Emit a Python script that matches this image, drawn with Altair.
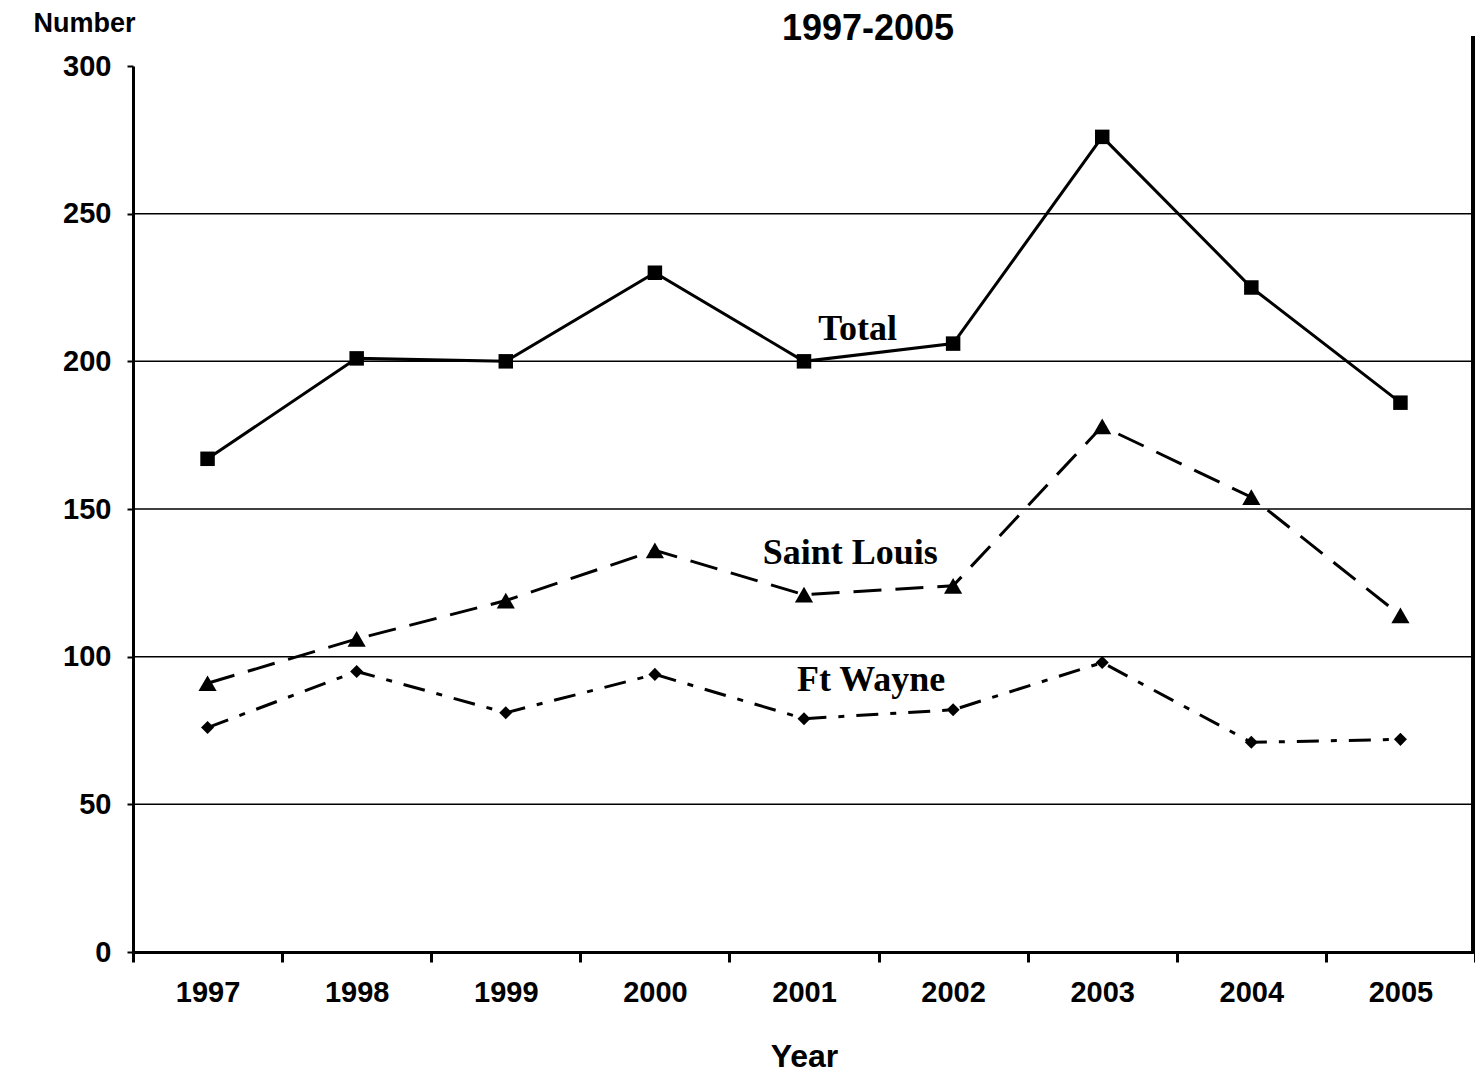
import altair as alt
import pandas as pd

years = [1997, 1998, 1999, 2000, 2001, 2002, 2003, 2004, 2005]
total = [167, 201, 200, 230, 200, 206, 276, 225, 186]
saint_louis = [91, 106, 119, 136, 121, 124, 178, 154, 114]
ft_wayne = [76, 95, 81, 94, 79, 82, 98, 71, 72]

label_text = ["Total", "Saint Louis", "Ft Wayne"]
label_x = [2001.36, 2001.31, 2001.45]
label_y = [211, 135, 92]

chart_title = ["1997-2005"]

gridlines = [50, 100, 150, 200, 250]
y_ticks = [0, 50, 100, 150, 200, 250, 300]
x_boundaries = [1996.5, 1997.5, 1998.5, 1999.5, 2000.5, 2001.5, 2002.5, 2003.5, 2004.5, 2005.5]

df = pd.DataFrame({
    "year": years * 3,
    "value": total + saint_louis + ft_wayne,
    "series": ["Total"] * 9 + ["Saint Louis"] * 9 + ["Ft Wayne"] * 9,
})
labels_df = pd.DataFrame({"label": label_text, "lx": label_x, "ly": label_y})
grid_df = pd.DataFrame({"g": gridlines})
title_df = pd.DataFrame({"t": chart_title})

SANS = "Liberation Sans"
SERIF = "Liberation Serif"

W, H = 1342, 886

x_scale = alt.Scale(domain=[1996.5, 2005.5], nice=False, zero=False)
y_scale = alt.Scale(domain=[0, 300], nice=False)

x_axis = alt.Axis(
    values=sorted(x_boundaries + years),
    labelExpr="datum.value % 1 == 0 ? format(datum.value, 'd') : ''",
    tickOpacity={"condition": {"test": "datum.value % 1 == 0", "value": 0}, "value": 1},
    tickSize=10, tickWidth=3, tickColor="black",
    domainColor="black", domainWidth=3,
    labelFont=SANS, labelFontSize=29, labelFontWeight="bold", labelColor="black",
    labelPadding=16, labelOverlap=False, labelFlush=False,
    grid=False,
    titleFont=SANS, titleFontSize=32, titleFontWeight="bold", titleColor="black",
    titleY=104, titleBaseline="middle",
)
y_axis = alt.Axis(
    values=y_ticks, format="d",
    tickSize=6, tickWidth=2, tickColor="black",
    domainColor="black", domainWidth=3,
    labelFont=SANS, labelFontSize=29, labelFontWeight="bold", labelColor="black",
    labelPadding=16,
    grid=False,
    titleFont=SANS, titleFontSize=27, titleFontWeight="bold", titleColor="black",
    titleAngle=0, titleAlign="right", titleX=2, titleY=-43, titleBaseline="middle",
)

X = alt.X("year:Q", scale=x_scale, axis=x_axis, title="Year")
Y = alt.Y("value:Q", scale=y_scale, axis=y_axis, title="Number")

grid = alt.Chart(grid_df).mark_rule(color="black", strokeWidth=1.5).encode(
    y=alt.Y("g:Q", scale=y_scale, axis=y_axis, title="Number")
)

layers = [grid]
styles = [
    ("Total", None, "square", 210),
    ("Saint Louis", [28, 14], "triangle-up", 330),
    ("Ft Wayne", [22, 12, 6, 12], "diamond", 170),
]
for name, dash, shape, size in styles:
    base = alt.Chart(df).transform_filter(alt.datum.series == name)
    if dash is None:
        line = base.mark_line(color="black", strokeWidth=3)
    else:
        line = base.mark_line(color="black", strokeWidth=3, strokeDash=dash)
    layers.append(line.encode(x=X, y=Y))
    layers.append(
        base.mark_point(shape=shape, filled=True, color="black", size=size, opacity=1).encode(x=X, y=Y)
    )

text = alt.Chart(labels_df).mark_text(
    font=SERIF, fontSize=36, fontWeight="bold", color="black"
).encode(
    x=alt.X("lx:Q", scale=x_scale, axis=x_axis, title="Year"),
    y=alt.Y("ly:Q", scale=y_scale, axis=y_axis, title="Number"),
    text="label:N",
)
layers.append(text)

title_mark = alt.Chart(title_df).mark_text(
    font=SANS, fontSize=36, fontWeight="bold", color="black", baseline="middle"
).encode(x=alt.value(735), y=alt.value(-37), text="t:N")
layers.append(title_mark)

right_line = alt.Chart(grid_df).mark_rule(color="black", strokeWidth=4).encode(
    x=alt.value(W - 2), y=alt.value(-30), y2=alt.value(H)
)
layers.append(right_line)

chart = alt.layer(*layers).properties(
    width=W,
    height=H,
    autosize=alt.AutoSizeParams(type="none"),
    padding={"left": 125, "top": 58, "right": 0, "bottom": 122},
).configure_view(stroke=None)

chart.save("out.html", embed_options={"renderer": "svg", "actions": False})
